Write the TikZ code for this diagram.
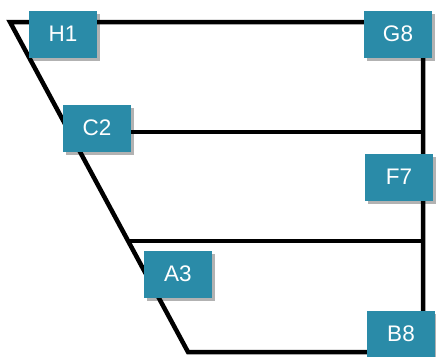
\documentclass[tikz,border=0pt]{standalone}
\usepackage{fontspec}
\setmainfont{Liberation Sans}
\usetikzlibrary{shadows}
\definecolor{boxteal}{RGB}{42,139,168}
\tikzset{
  lbl/.style={fill=boxteal, text=white, minimum width=68pt, minimum height=47pt,
    inner sep=0pt, font=\fontsize{22.5}{22.5}\selectfont,
    drop shadow={shadow xshift=2.5pt, shadow yshift=-3pt, opacity=0.3, fill=black}},
  edge/.style={line width=4.5pt, line join=miter, black}
}
\newcommand{\lbltext}[1]{\raisebox{-2pt}{#1}}
\begin{document}
\begin{tikzpicture}[x=1pt,y=-1pt]
\useasboundingbox (0,0) rectangle (436,356);
\coordinate (tl) at (10,22);
\coordinate (tr) at (423,22);
\coordinate (br) at (423,352);
\coordinate (bl) at (188,352);
\coordinate (c2l) at (70,132);
\coordinate (c2r) at (423,132);
\coordinate (a3l) at (129,241);
\coordinate (a3r) at (423,241);
\draw[edge] (tl) -- (tr) -- (br) -- (bl) -- cycle;
\draw[edge] (c2l) -- (c2r);
\draw[edge] (a3l) -- (a3r);
\node[lbl] (h1) at (63,34) {\lbltext{H1}};
\node[lbl] (c2) at (97,128) {\lbltext{C2}};
\node[lbl] (g8) at (398,34) {\lbltext{G8}};
\node[lbl] (f7) at (399,177) {\lbltext{F7}};
\node[lbl] (a3) at (178,274) {\lbltext{A3}};
\node[lbl] (b8) at (401,334) {\lbltext{B8}};
\end{tikzpicture}
\end{document}
